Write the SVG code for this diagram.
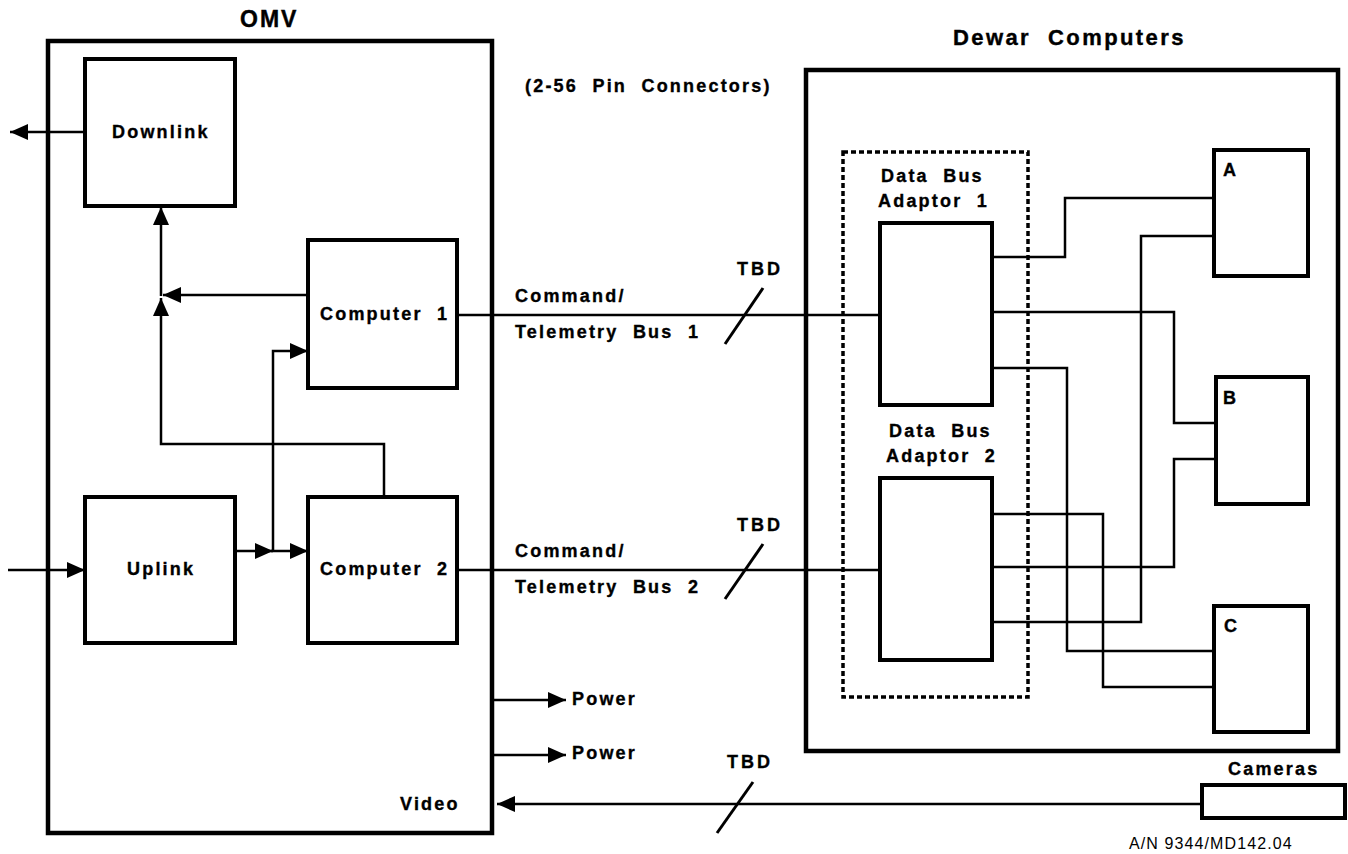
<svg xmlns="http://www.w3.org/2000/svg" width="1348" height="854" viewBox="0 0 1348 854">
<style>
  .box { fill: none; stroke: #000; stroke-width: 4; }
  .frame { fill: none; stroke: #000; stroke-width: 4.5; }
  .dash { fill: none; stroke: #000; stroke-width: 3.5; stroke-dasharray: 5 3; }
  .ln { fill: none; stroke: #000; stroke-width: 2.5; }
  .arr { fill: none; stroke: #000; stroke-width: 2.5; marker-end: url(#ah); }
  .slash { stroke: #000; stroke-width: 3; }
  .t { font-family: "Liberation Sans", Arial, sans-serif; font-weight: bold; font-size: 18px; letter-spacing: 2.2px; fill: #000; stroke: #000; stroke-width: 0.35px; }
  .title { font-family: "Liberation Sans", Arial, sans-serif; font-weight: bold; font-size: 22px; letter-spacing: 2.4px; fill: #000; stroke: #000; stroke-width: 0.4px; }
  .note { font-family: "Liberation Sans", Arial, sans-serif; font-size: 16px; letter-spacing: 1.1px; fill: #000; }
</style>
<defs>
  <marker id="ah" markerUnits="userSpaceOnUse" markerWidth="20" markerHeight="18" refX="18" refY="8" orient="auto">
    <path d="M0,0 L18,8 L0,16 z" fill="#000"/>
  </marker>
</defs>
<rect width="1348" height="854" fill="#fff"/>

<g id="omv">
  <rect class="frame" x="48" y="41" width="444" height="792"/>
  <text class="title" x="240" y="27" style="font-size:23px;letter-spacing:2px">OMV</text>
</g>
<g id="downlink">
  <rect class="box" x="85" y="59" width="150" height="147"/>
  <text class="t" x="112" y="138">Downlink</text>
</g>
<g id="computer1">
  <rect class="box" x="308" y="240" width="149" height="148"/>
  <text class="t" x="320" y="320" xml:space="preserve">Computer  1</text>
</g>
<g id="uplink">
  <rect class="box" x="85" y="497" width="150" height="146"/>
  <text class="t" x="127" y="575">Uplink</text>
</g>
<g id="computer2">
  <rect class="box" x="308" y="497" width="149" height="146"/>
  <text class="t" x="320" y="575" xml:space="preserve">Computer  2</text>
</g>

<g id="dewar">
  <rect class="frame" x="806" y="70" width="532" height="681"/>
  <text class="title" x="953" y="45" xml:space="preserve">Dewar  Computers</text>
</g>
<g id="adaptor-group">
  <rect class="dash" x="843" y="152" width="185" height="545"/>
</g>
<g id="dba1">
  <rect class="box" x="880" y="223" width="112" height="182"/>
  <text class="t" x="881" y="182" xml:space="preserve">Data  Bus</text>
  <text class="t" x="878" y="207" xml:space="preserve">Adaptor  1</text>
</g>
<g id="dba2">
  <rect class="box" x="880" y="478" width="112" height="182"/>
  <text class="t" x="889" y="437" xml:space="preserve">Data  Bus</text>
  <text class="t" x="886" y="462" xml:space="preserve">Adaptor  2</text>
</g>
<g id="computerA">
  <rect class="box" x="1214" y="150" width="94" height="126"/>
  <text class="t" x="1223" y="176">A</text>
</g>
<g id="computerB">
  <rect class="box" x="1216" y="377" width="92" height="127"/>
  <text class="t" x="1223" y="404">B</text>
</g>
<g id="computerC">
  <rect class="box" x="1214" y="606" width="94" height="126"/>
  <text class="t" x="1224" y="632">C</text>
</g>
<g id="cameras">
  <rect class="box" x="1202" y="785" width="143" height="33"/>
  <text class="t" x="1228" y="775">Cameras</text>
</g>

<g id="connectors">
  <path class="arr" d="M85,132 H10"/>
  <path class="arr" d="M384,497 V444 H161 V298"/>
  <path class="arr" d="M161,296 V207"/>
  <path class="arr" d="M308,295 H163"/>
  <path class="arr" d="M8,570 H85"/>
  <path class="arr" d="M235,551 H273"/>
  <path class="arr" d="M271,551 H308"/>
  <path class="arr" d="M273,551 V351 H308"/>
  <path class="ln" d="M457,315 H880"/>
  <path class="ln" d="M457,570 H880"/>
  <line class="slash" x1="725" y1="344" x2="763" y2="288"/>
  <line class="slash" x1="725" y1="599" x2="763" y2="544"/>
  <path class="arr" d="M492,700 H566"/>
  <path class="arr" d="M492,755 H566"/>
  <path class="arr" d="M1202,804 H497"/>
  <line class="slash" x1="717" y1="833" x2="753" y2="782"/>
  <path class="ln" d="M992,257 H1065 V198 H1214"/>
  <path class="ln" d="M1214,236 H1141 V622 H992"/>
  <path class="ln" d="M992,312 H1174 V423 H1216"/>
  <path class="ln" d="M992,368 H1067 V651 H1214"/>
  <path class="ln" d="M1216,459 H1174 V567 H992"/>
  <path class="ln" d="M992,514 H1103 V687 H1214"/>
</g>

<g id="labels">
  <text class="t" x="525" y="92" xml:space="preserve">(2-56  Pin  Connectors)</text>
  <text class="t" x="515" y="302">Command/</text>
  <text class="t" x="515" y="338" xml:space="preserve">Telemetry  Bus  1</text>
  <text class="t" x="515" y="557">Command/</text>
  <text class="t" x="515" y="593" xml:space="preserve">Telemetry  Bus  2</text>
  <text class="t" x="737" y="275" style="letter-spacing:3px">TBD</text>
  <text class="t" x="737" y="531" style="letter-spacing:3px">TBD</text>
  <text class="t" x="727" y="768" style="letter-spacing:3px">TBD</text>
  <text class="t" x="572" y="705">Power</text>
  <text class="t" x="572" y="759">Power</text>
  <text class="t" x="400" y="810">Video</text>
  <text class="note" x="1129" y="849">A/N 9344/MD142.04</text>
</g>
</svg>
